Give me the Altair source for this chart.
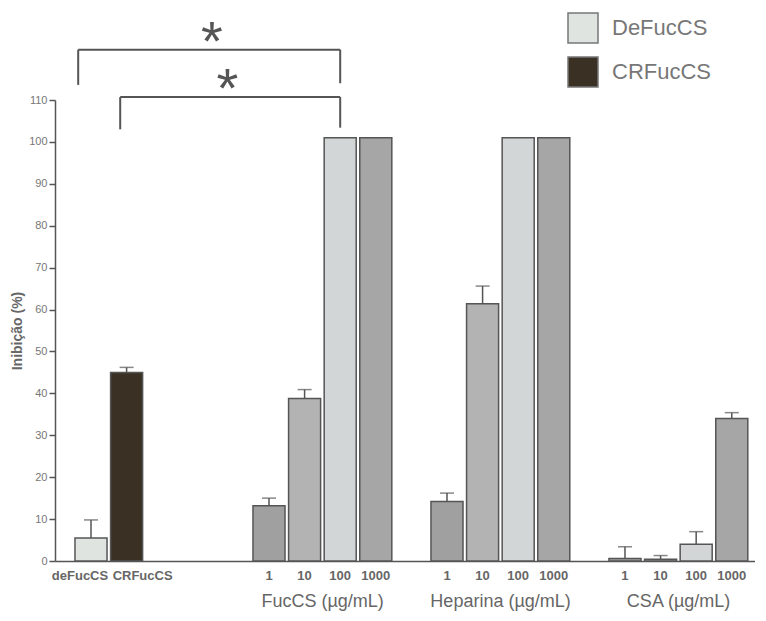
import altair as alt
import pandas as pd

# ---- data ----
slots = ["deFucCS", "CRFucCS", "g1", "g2", "g3",
         "F1", "F10", "F100", "F1000", "g4",
         "H1", "H10", "H100", "H1000", "g5",
         "C1", "C10", "C100", "C1000"]
slot_labels = ["deFucCS", "CRFucCS", "", "", "",
               "1", "10", "100", "1000", "",
               "1", "10", "100", "1000", "",
               "1", "10", "100", "1000"]

bar_slots = ["deFucCS", "CRFucCS", "F1", "F10", "F100", "F1000",
             "H1", "H10", "H100", "H1000", "C1", "C10", "C100", "C1000"]
bar_keys = ["DeFucCS", "CRFucCS", "c1", "c10", "c100", "c1000",
            "c1", "c10", "c100", "c1000", "c1", "c10", "c100", "c1000"]
inhib = [5.5, 45.0, 13.2, 38.8, 101.0, 101.0, 14.2, 61.4, 101.0, 101.0, 0.6, 0.4, 4.0, 34.0]
err = [4.3, 1.2, 1.8, 2.1, 0.0, 0.0, 2.0, 4.2, 0.0, 0.0, 2.8, 0.9, 3.0, 1.4]

key_domain = ["DeFucCS", "CRFucCS", "c1", "c10", "c100", "c1000"]
key_colors = ["#dfe4e1", "#3b3024", "#a0a0a0", "#b3b3b3", "#d2d6d6", "#a6a6a6"]

group_titles = ["FucCS (µg/mL)", "Heparina (µg/mL)", "CSA (µg/mL)"]
group_anchor = ["F10", "H10", "C10"]

# brackets: left slot, right slot, top, left bottom, right bottom (data units)
br_left = ["deFucCS", "CRFucCS"]
br_right = ["F100", "F100"]
br_top = [122.0, 110.7]
br_left_bottom = [113.6, 103.0]
br_right_bottom = [114.0, 103.4]
br_left_pos = [0.1, 0.3]

star_slots = ["g2", "g3"]
star_y = [119.5, 108.3]
star_dx = [14, -6]

FONT = "Liberation Sans"
H = 461
W = 700

df = pd.DataFrame({"slot": bar_slots, "key": bar_keys, "inhib": inhib, "err": err})
df["top"] = df["inhib"] + df["err"]
df_err = df[df["err"] > 0]

label_expr = ("[" + ",".join("'%s'" % s for s in slot_labels) + "][indexof(["
              + ",".join("'%s'" % s for s in slots) + "], datum.value)]")

xscale = alt.Scale(domain=slots, paddingInner=0.1, paddingOuter=0.382, align=0.735)
yscale = alt.Scale(domain=[0, 110], nice=False)

xaxis = alt.Axis(
    labelExpr=label_expr, ticks=False, domainColor="#555", domainWidth=1.5,
    labelFont=FONT, labelFontSize=13, labelFontWeight="bold", labelColor="#666",
    labelAngle=0, labelPadding=8, title=None, labelOverlap=False, labelBound=False,
    labelOffset={"condition": [{"test": "datum.value == 'deFucCS'", "value": -11},
                               {"test": "datum.value == 'CRFucCS'", "value": 16}],
                 "value": 0},
)
yaxis = alt.Axis(
    values=list(range(0, 111, 10)), title="Inibição (%)", tickSize=6,
    labelFont=FONT, labelFontSize=11, labelColor="#777", labelPadding=2,
    titleFont=FONT, titleFontSize=14, titleFontWeight="bold", titleColor="#666",
    titlePadding=4, domainColor="#555", tickColor="#555", domainWidth=1.5,
    tickWidth=1.5, grid=False,
)

bars = alt.Chart(df).mark_bar(stroke="#555", strokeWidth=1.5).encode(
    x=alt.X("slot:N", scale=xscale, axis=xaxis, sort=slots),
    y=alt.Y("inhib:Q", scale=yscale, axis=yaxis),
    fill=alt.Fill("key:N", scale=alt.Scale(domain=key_domain, range=key_colors),
                  legend=alt.Legend(
                      values=["DeFucCS", "CRFucCS"], orient="none", legendX=512, legendY=-88,
                      title=None, symbolType="square", symbolSize=900,
                      symbolStrokeColor="#777", symbolStrokeWidth=1.5,
                      labelFont=FONT, labelFontSize=22, labelColor="#777",
                      labelOffset=13, rowPadding=8, padding=0)),
)

err_rule = alt.Chart(df_err).mark_rule(color="#555", strokeWidth=1.5).encode(
    x=alt.X("slot:N", sort=slots), y="inhib:Q", y2="top:Q")
err_cap = alt.Chart(df_err).mark_tick(color="#555", size=14, thickness=1.5).encode(
    x=alt.X("slot:N", sort=slots), y="top:Q")

layers = [bars, err_rule, err_cap]

for i in range(len(br_left)):
    bdf = pd.DataFrame({"l": [br_left[i]], "r": [br_right[i]], "top": [br_top[i]],
                        "lb": [br_left_bottom[i]], "rb": [br_right_bottom[i]]})
    base = alt.Chart(bdf).mark_rule(color="#555", strokeWidth=2)
    layers.append(base.encode(x=alt.X("l:N", bandPosition=br_left_pos[i]),
                              x2=alt.X2("r:N", bandPosition=0.5), y="top:Q"))
    layers.append(base.encode(x=alt.X("l:N", bandPosition=br_left_pos[i]),
                              y="lb:Q", y2="top:Q"))
    layers.append(base.encode(x=alt.X("r:N", bandPosition=0.5),
                              y="rb:Q", y2="top:Q"))

for i in range(len(star_slots)):
    sdf = pd.DataFrame({"s": [star_slots[i]], "y": [star_y[i]], "t": ["*"]})
    layers.append(alt.Chart(sdf).mark_text(font=FONT, fontSize=56, color="#555",
                                           baseline="alphabetic", align="center",
                                           dx=star_dx[i]).encode(
        x="s:N", y="y:Q", text="t:N"))

gdf = pd.DataFrame({"a": group_anchor, "t": group_titles})
layers.append(alt.Chart(gdf).mark_text(font=FONT, fontSize=18, color="#666",
                                       baseline="middle", align="center", dx=18).encode(
    x="a:N", y=alt.value(H + 41), text="t:N"))

chart = alt.layer(*layers).properties(
    width=W, height=H,
    padding={"left": 47, "top": 92, "right": 0, "bottom": 56},
    autosize="none",
    background="white",
).configure_view(stroke=None)

chart.save("out.html", embed_options={"renderer": "svg", "actions": False})
